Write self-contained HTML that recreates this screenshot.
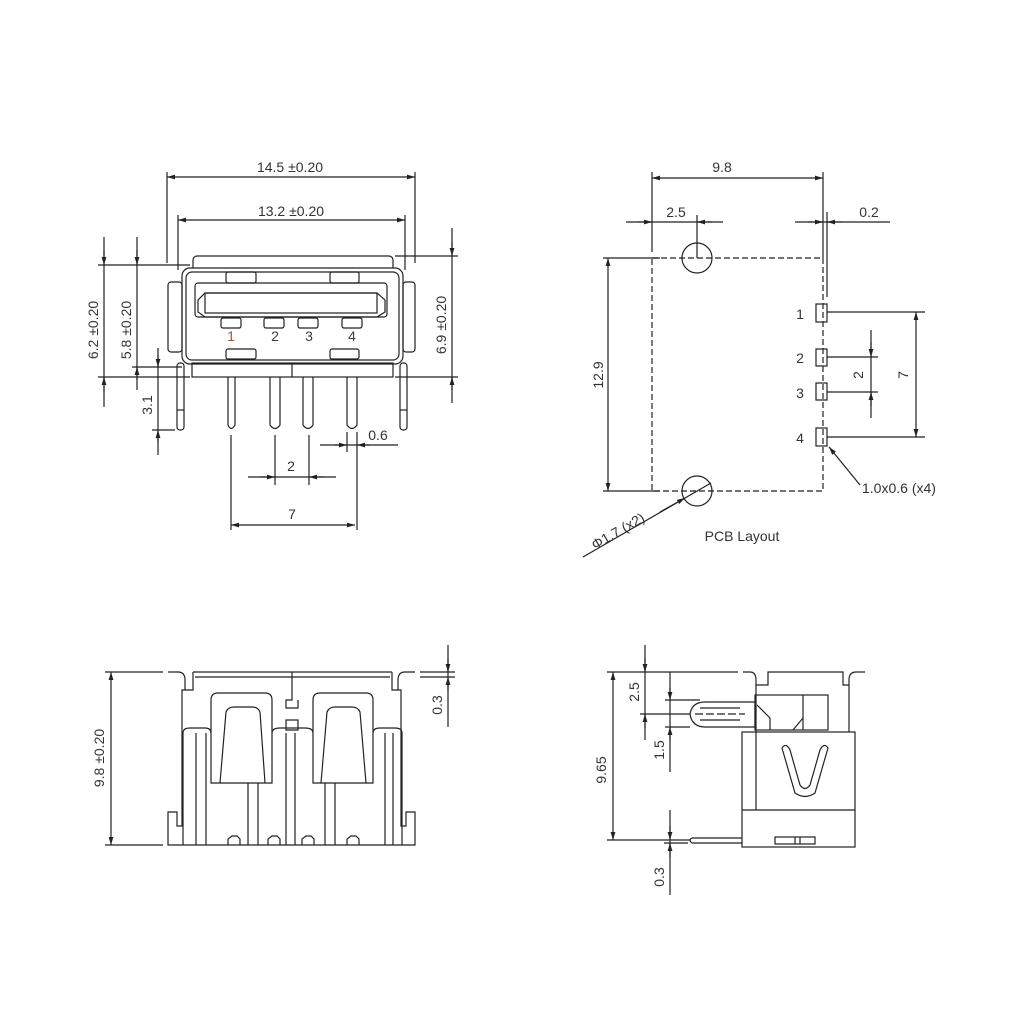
<!DOCTYPE html>
<html><head><meta charset="utf-8"><style>
html,body{margin:0;padding:0;background:#fff;}
svg{display:block;}
text{font-family:"Liberation Sans",sans-serif;font-size:14px;fill:#333;}
</style></head><body>
<svg width="1024" height="1024" viewBox="0 0 1024 1024" xmlns="http://www.w3.org/2000/svg">
<defs>
<marker id="a" viewBox="0 0 10 6" refX="10" refY="3" markerWidth="8" markerHeight="4" orient="auto-start-reverse"><path d="M0,0 L10,3 L0,6 z" fill="#222"/></marker>
</defs>
<g fill="none" stroke="#222" stroke-width="1.2">
<!-- ===== TOP LEFT VIEW ===== -->
<!-- dims -->
<line x1="167" y1="172" x2="167" y2="263"/><line x1="415" y1="172" x2="415" y2="263"/>
<line x1="167" y1="177" x2="415" y2="177" marker-start="url(#a)" marker-end="url(#a)"/>
<line x1="178" y1="215" x2="178" y2="270"/><line x1="405" y1="215" x2="405" y2="270"/>
<line x1="178" y1="220" x2="405" y2="220" marker-start="url(#a)" marker-end="url(#a)"/>
<line x1="98" y1="265" x2="190" y2="265"/><line x1="98" y1="377" x2="190" y2="377"/>
<line x1="104" y1="237" x2="104" y2="407"/>
<line x1="104" y1="250" x2="104" y2="265" marker-end="url(#a)"/><line x1="104" y1="392" x2="104" y2="377" marker-end="url(#a)"/>
<line x1="137" y1="237" x2="137" y2="390"/>
<line x1="137" y1="250" x2="137" y2="265" marker-end="url(#a)"/><line x1="137" y1="380" x2="137" y2="367" marker-end="url(#a)"/>
<line x1="132" y1="367" x2="182" y2="367"/>
<line x1="158" y1="348" x2="158" y2="455"/>
<line x1="158" y1="355" x2="158" y2="367" marker-end="url(#a)"/><line x1="158" y1="442" x2="158" y2="430" marker-end="url(#a)"/>
<line x1="152" y1="430" x2="175" y2="430"/>
<line x1="395" y1="256" x2="458" y2="256"/><line x1="395" y1="377" x2="458" y2="377"/>
<line x1="452" y1="228" x2="452" y2="403"/>
<line x1="452" y1="242" x2="452" y2="256" marker-end="url(#a)"/><line x1="452" y1="390" x2="452" y2="377" marker-end="url(#a)"/>
<line x1="320" y1="445" x2="398" y2="445"/>
<line x1="335" y1="445" x2="347" y2="445" marker-end="url(#a)"/><line x1="370" y1="445" x2="357" y2="445" marker-end="url(#a)"/>
<line x1="347" y1="432" x2="347" y2="452"/><line x1="357" y1="432" x2="357" y2="530"/>
<line x1="231" y1="435" x2="231" y2="530"/>
<line x1="275" y1="435" x2="275" y2="485"/><line x1="309" y1="435" x2="309" y2="485"/>
<line x1="248" y1="477" x2="336" y2="477"/>
<line x1="260" y1="477" x2="275" y2="477" marker-end="url(#a)"/><line x1="324" y1="477" x2="309" y2="477" marker-end="url(#a)"/>
<line x1="231" y1="525" x2="355" y2="525" marker-start="url(#a)" marker-end="url(#a)"/>
<!-- body -->
<rect x="193" y="256" width="200" height="20" rx="4"/>
<rect x="182" y="268" width="221" height="96" rx="8" fill="#fff"/>
<rect x="186" y="272" width="213" height="88" rx="6"/>
<rect x="168" y="282" width="14" height="70" rx="3"/>
<rect x="403" y="282" width="12" height="70" rx="3"/>
<rect x="195" y="283" width="192" height="34" rx="3"/>
<polygon points="205,293 377,293 385,300 385,312 377,317 205,317 198,312 198,300"/>
<rect x="205" y="293" width="172" height="20"/>
<rect x="226" y="272" width="30" height="11" rx="2"/><rect x="330" y="272" width="29" height="11" rx="2"/>
<rect x="226" y="349" width="30" height="10" rx="2"/><rect x="330" y="349" width="29" height="10" rx="2"/>
<rect x="221" y="318" width="20" height="10" rx="2"/><rect x="264" y="318" width="20" height="10" rx="2"/>
<rect x="298" y="318" width="20" height="10" rx="2"/><rect x="342" y="318" width="20" height="10" rx="2"/>
<rect x="192" y="363" width="201" height="14"/>
<line x1="292" y1="363" x2="292" y2="377"/>
<rect x="177" y="363" width="7" height="67" rx="3"/><rect x="400" y="363" width="7" height="67" rx="3"/>
<line x1="177" y1="410" x2="184" y2="410"/><line x1="400" y1="410" x2="407" y2="410"/>
<path d="M228,377 V425 Q231,432 235,425 V377"/>
<path d="M270,377 V425 Q275,432 280,425 V377"/>
<path d="M303,377 V425 Q308,432 313,425 V377"/>
<path d="M347,377 V425 Q352,432 357,425 V377"/>
<!-- ===== PCB LAYOUT ===== -->
<line x1="652" y1="172" x2="652" y2="252"/><line x1="823" y1="172" x2="823" y2="258"/>
<line x1="652" y1="178" x2="823" y2="178" marker-start="url(#a)" marker-end="url(#a)"/>
<line x1="626" y1="222" x2="723" y2="222"/>
<line x1="637" y1="222" x2="652" y2="222" marker-end="url(#a)"/><line x1="712" y1="222" x2="697" y2="222" marker-end="url(#a)"/>
<line x1="697" y1="215" x2="697" y2="258"/>
<line x1="795" y1="222" x2="890" y2="222"/>
<line x1="808" y1="222" x2="823" y2="222" marker-end="url(#a)"/><line x1="842" y1="222" x2="827" y2="222" marker-end="url(#a)"/>
<line x1="827" y1="212" x2="827" y2="297"/>
<rect x="652" y="258" width="171" height="233" stroke-dasharray="6,3"/>
<circle cx="697" cy="258" r="15"/><circle cx="697" cy="491" r="15"/>
<line x1="603" y1="258" x2="660" y2="258"/><line x1="603" y1="491" x2="660" y2="491"/>
<line x1="608" y1="258" x2="608" y2="491" marker-start="url(#a)" marker-end="url(#a)"/>
<rect x="816" y="304" width="11" height="18"/><rect x="816" y="349" width="11" height="17"/>
<rect x="816" y="383" width="11" height="17"/><rect x="816" y="428" width="11" height="18"/>
<line x1="827" y1="312" x2="925" y2="312"/><line x1="827" y1="437" x2="925" y2="437"/>
<line x1="916" y1="312" x2="916" y2="437" marker-start="url(#a)" marker-end="url(#a)"/>
<line x1="827" y1="357" x2="878" y2="357"/><line x1="827" y1="392" x2="878" y2="392"/>
<line x1="871" y1="330" x2="871" y2="418"/>
<line x1="871" y1="342" x2="871" y2="357" marker-end="url(#a)"/><line x1="871" y1="406" x2="871" y2="392" marker-end="url(#a)"/>
<line x1="860" y1="485" x2="829" y2="447" marker-end="url(#a)"/>
<line x1="583" y1="557" x2="711" y2="483"/>
<line x1="660" y1="512" x2="685" y2="498" marker-end="url(#a)"/>
<!-- ===== FRONT VIEW (bottom-left) ===== -->
<line x1="105" y1="672" x2="163" y2="672"/><line x1="105" y1="845" x2="163" y2="845"/>
<line x1="111" y1="672" x2="111" y2="845" marker-start="url(#a)" marker-end="url(#a)"/>
<line x1="420" y1="672" x2="455" y2="672"/><line x1="420" y1="677" x2="455" y2="677"/>
<line x1="448" y1="645" x2="448" y2="727"/>
<line x1="448" y1="658" x2="448" y2="672" marker-end="url(#a)"/><line x1="448" y1="691" x2="448" y2="677" marker-end="url(#a)"/>
<path d="M193,672 H392 M193,672 V690 H182 V826 H177 V812 H168 V845 H415 V812 H406 V826 H401 V690 H392 V672"/>
<path d="M168,672 H178 Q185,672 185,680 V690 M415,672 H405 Q398,672 398,680 V690"/>
<line x1="195" y1="677" x2="390" y2="677"/>
<path d="M292,672 V700 H286 V708 H298 V700"/><path d="M286,720 H298 V730 H286 Z"/>
<path d="M183,733 Q183,728 190,728 H205 Q211,728 211,733"/>
<path d="M272,733 Q272,728 280,728 H305 Q313,728 313,733"/>
<path d="M373,733 Q373,728 380,728 H395 Q402,728 402,733"/>
<line x1="183" y1="733" x2="183" y2="845"/><line x1="196" y1="733" x2="196" y2="845"/><line x1="206" y1="733" x2="206" y2="845"/>
<line x1="286" y1="733" x2="286" y2="845"/><line x1="295" y1="733" x2="295" y2="845"/>
<line x1="385" y1="733" x2="385" y2="845"/><line x1="393" y1="733" x2="393" y2="845"/><line x1="402" y1="733" x2="402" y2="845"/>
<path d="M211,783 V700 Q211,693 218,693 H265 Q272,693 272,700 V783 Z" fill="#fff"/>
<path d="M220,783 L226,712 Q228,707 234,707 H252 Q258,707 260,712 L265,783"/>
<path d="M313,783 V700 Q313,693 320,693 H366 Q373,693 373,700 V783 Z" fill="#fff"/>
<path d="M321,783 L327,712 Q329,707 335,707 H352 Q358,707 360,712 L366,783"/>
<line x1="248" y1="783" x2="248" y2="845"/><line x1="258" y1="783" x2="258" y2="845"/>
<line x1="325" y1="783" x2="325" y2="845"/><line x1="335" y1="783" x2="335" y2="845"/>
<path d="M228,845 V839 L232,836 H237 L240,839 V845"/><path d="M268,845 V839 L272,836 H277 L280,839 V845"/>
<path d="M302,845 V839 L306,836 H311 L314,839 V845"/><path d="M347,845 V839 L351,836 H356 L359,839 V845"/>
<!-- ===== SIDE VIEW (bottom-right) ===== -->
<line x1="607" y1="672" x2="738" y2="672"/><line x1="607" y1="840" x2="690" y2="840"/>
<line x1="613" y1="672" x2="613" y2="840" marker-start="url(#a)" marker-end="url(#a)"/>
<line x1="645" y1="645" x2="645" y2="740"/>
<line x1="645" y1="658" x2="645" y2="672" marker-end="url(#a)"/><line x1="645" y1="728" x2="645" y2="714" marker-end="url(#a)"/>
<line x1="640" y1="714" x2="690" y2="714"/>
<line x1="670" y1="672" x2="670" y2="772"/>
<line x1="665" y1="700" x2="700" y2="700"/><line x1="665" y1="727" x2="690" y2="727"/>
<line x1="670" y1="688" x2="700" y2="700" stroke="none"/>
<line x1="670" y1="688" x2="670" y2="700" marker-end="url(#a)"/><line x1="670" y1="740" x2="670" y2="727" marker-end="url(#a)"/>
<line x1="670" y1="810" x2="670" y2="895"/>
<line x1="670" y1="826" x2="670" y2="840" marker-end="url(#a)"/><line x1="670" y1="857" x2="670" y2="843" marker-end="url(#a)"/>
<line x1="664" y1="843" x2="688" y2="843"/>
<path d="M743,672 H750 Q756,672 756,680 V685 H768 V672 H843 V685 H849 V680 Q849,672 856,672 H865"/>
<line x1="756" y1="685" x2="756" y2="732"/><line x1="849" y1="685" x2="849" y2="732"/>
<rect x="742" y="732" width="113" height="115"/>
<line x1="756" y1="732" x2="756" y2="810"/>
<line x1="742" y1="810" x2="855" y2="810"/>
<rect x="755" y="695" width="73" height="35"/>
<line x1="803" y1="695" x2="803" y2="730"/>
<path d="M793,730 L803,718"/>
<path d="M757,705 L770,718 V730"/>
<path d="M690,714 Q692,702 705,702 H755 V727 H705 Q692,727 690,714 Z"/>
<line x1="695" y1="714" x2="745" y2="714" stroke-dasharray="8,3"/>
<line x1="700" y1="708" x2="740" y2="708"/><line x1="700" y1="720" x2="740" y2="720"/>
<path d="M782,748 Q786,742 790,750 L800,785 Q805,792 810,785 L820,750 Q824,742 828,748 L815,793 Q805,800 795,793 Z"/>
<path d="M692,838 H742 M692,843 H742 M692,838 Q688,840 692,843"/>
<rect x="775" y="837" width="40" height="7"/>
<line x1="795" y1="837" x2="795" y2="844"/><line x1="800" y1="837" x2="800" y2="844"/>
</g>
<!-- TEXT -->
<text x="290" y="172" text-anchor="middle">14.5 ±0.20</text>
<text x="291" y="216" text-anchor="middle">13.2 ±0.20</text>
<text transform="translate(98,330) rotate(-90)" text-anchor="middle">6.2 ±0.20</text>
<text transform="translate(131,330) rotate(-90)" text-anchor="middle">5.8 ±0.20</text>
<text transform="translate(152,405) rotate(-90)" text-anchor="middle">3.1</text>
<text transform="translate(446,325) rotate(-90)" text-anchor="middle">6.9 ±0.20</text>
<text x="378" y="440" text-anchor="middle">0.6</text>
<text x="291" y="471" text-anchor="middle">2</text>
<text x="292" y="519" text-anchor="middle">7</text>
<text x="231" y="341" text-anchor="middle" style="fill:#8a5a3a">1</text>
<text x="275" y="341" text-anchor="middle" style="fill:#3a3a55">2</text>
<text x="309" y="341" text-anchor="middle" style="fill:#3a3a55">3</text>
<text x="352" y="341" text-anchor="middle" style="fill:#3a3a55">4</text>
<text x="722" y="172" text-anchor="middle">9.8</text>
<text x="676" y="217" text-anchor="middle">2.5</text>
<text x="869" y="217" text-anchor="middle">0.2</text>
<text transform="translate(603,375) rotate(-90)" text-anchor="middle">12.9</text>
<text x="800" y="319" text-anchor="middle">1</text>
<text x="800" y="363" text-anchor="middle">2</text>
<text x="800" y="398" text-anchor="middle">3</text>
<text x="800" y="443" text-anchor="middle">4</text>
<text transform="translate(863,375) rotate(-90)" text-anchor="middle">2</text>
<text transform="translate(908,375) rotate(-90)" text-anchor="middle">7</text>
<text x="862" y="493">1.0x0.6 (x4)</text>
<text transform="translate(595,550) rotate(-30)">Φ1.7 (x2)</text>
<text x="742" y="541" text-anchor="middle">PCB Layout</text>
<text transform="translate(104,758) rotate(-90)" text-anchor="middle">9.8 ±0.20</text>
<text transform="translate(442,705) rotate(-90)" text-anchor="middle">0.3</text>
<text transform="translate(606,770) rotate(-90)" text-anchor="middle">9.65</text>
<text transform="translate(639,692) rotate(-90)" text-anchor="middle">2.5</text>
<text transform="translate(664,750) rotate(-90)" text-anchor="middle">1.5</text>
<text transform="translate(664,877) rotate(-90)" text-anchor="middle">0.3</text>
</svg>
</body></html>
